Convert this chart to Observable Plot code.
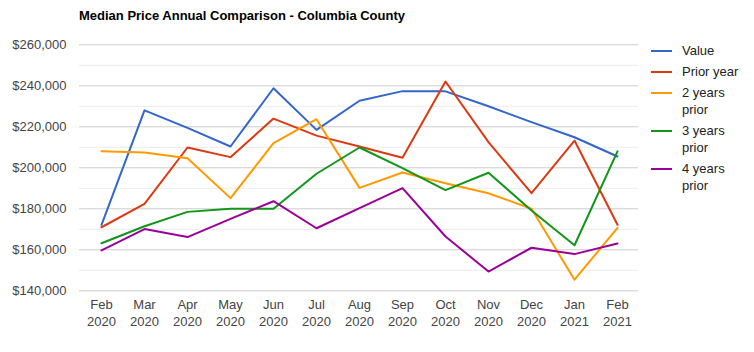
<!DOCTYPE html>
<html>
<head>
<meta charset="utf-8">
<script src="https://cdn.jsdelivr.net/npm/d3@7"></script>
<script src="https://cdn.jsdelivr.net/npm/@observablehq/plot@0.6"></script>
<style>
  html, body { margin: 0; padding: 0; background: #fff; }
  #wrap { position: relative; width: 754px; height: 352px; font-family: Arial, "Liberation Sans", sans-serif; }
  #title { position: absolute; left: 79px; top: 8px; font-size: 13px; font-weight: bold; line-height: 15px; color: #000; white-space: nowrap; }
  #legend { position: absolute; left: 651px; top: 42px; font-size: 13px; color: #222; }
  .item { display: flex; align-items: flex-start; margin-bottom: 4px; }
  .sw { width: 21px; height: 2px; margin-top: 8px; margin-right: 10px; flex: none; }
  .lab { width: 72px; line-height: 17px; }
</style>
</head>
<body>
<div id="wrap">
  <div id="chart"></div>
  <div id="title">Median Price Annual Comparison - Columbia County</div>
  <div id="legend"></div>
</div>
<script>
const months = ["Feb\n2020","Mar\n2020","Apr\n2020","May\n2020","Jun\n2020","Jul\n2020","Aug\n2020","Sep\n2020","Oct\n2020","Nov\n2020","Dec\n2020","Jan\n2021","Feb\n2021"];
const seriesNames = ["Value","Prior year","2 years prior","3 years prior","4 years prior"];
const seriesColors = ["#3366cc","#dc3912","#ff9900","#109618","#990099"];
const value       = [172200,228000,219500,210400,238800,218500,232700,237400,237300,230000,222300,214900,205500];
const priorYear   = [171000,182400,209900,205200,224000,215700,210400,204900,242100,212500,187600,213300,172200];
const twoYears    = [208100,207500,204700,185200,212000,223700,190200,197700,192500,187600,180000,145400,170700];
const threeYears  = [163200,171500,178500,180000,180000,197100,209900,199800,189100,197600,179200,162200,208000];
const fourYears   = [159700,170100,166200,175100,183700,170500,180300,190100,166500,149400,161000,157900,163100];
const yMajorTicks = [140000,160000,180000,200000,220000,240000,260000];
const yMinorTicks = [150000,170000,190000,210000,230000,250000];

const seriesValues = [value, priorYear, twoYears, threeYears, fourYears];
const data = [];
seriesNames.forEach((name, s) => {
  months.forEach((m, i) => data.push({month: m, value: seriesValues[s][i], series: name}));
});

const chart = Plot.plot({
  width: 754,
  height: 352,
  marginTop: 44.3,
  marginBottom: 61.7,
  marginLeft: 79,
  marginRight: 116,
  style: {fontFamily: "Arial, 'Liberation Sans', sans-serif", fontSize: "13px", color: "#444", background: "#fff"},
  x: {type: "point", domain: months, padding: 0.5, label: null},
  y: {domain: [140000, 260000], label: null},
  color: {domain: seriesNames, range: seriesColors},
  marks: [
    Plot.gridY(yMinorTicks, {stroke: "#ebebeb", strokeOpacity: 1}),
    Plot.gridY(yMajorTicks, {stroke: "#cccccc", strokeOpacity: 1}),
    Plot.axisY({ticks: yMajorTicks, tickSize: 0, tickPadding: 13, tickFormat: d => "$" + d3.format(",")(d), label: null, fontSize: 13}),
    Plot.axisX({tickSize: 0, tickPadding: 6, label: null, fontSize: 13, lineHeight: 1.3}),
    Plot.line(data, {x: "month", y: "value", z: "series", stroke: "series", strokeWidth: 2})
  ]
});
document.getElementById("chart").appendChild(chart);

const legend = document.getElementById("legend");
seriesNames.forEach((name, i) => {
  const item = document.createElement("div");
  item.className = "item";
  const sw = document.createElement("div");
  sw.className = "sw";
  sw.style.background = seriesColors[i];
  const lab = document.createElement("div");
  lab.className = "lab";
  lab.textContent = name;
  item.appendChild(sw);
  item.appendChild(lab);
  legend.appendChild(item);
});
</script>
</body>
</html>
